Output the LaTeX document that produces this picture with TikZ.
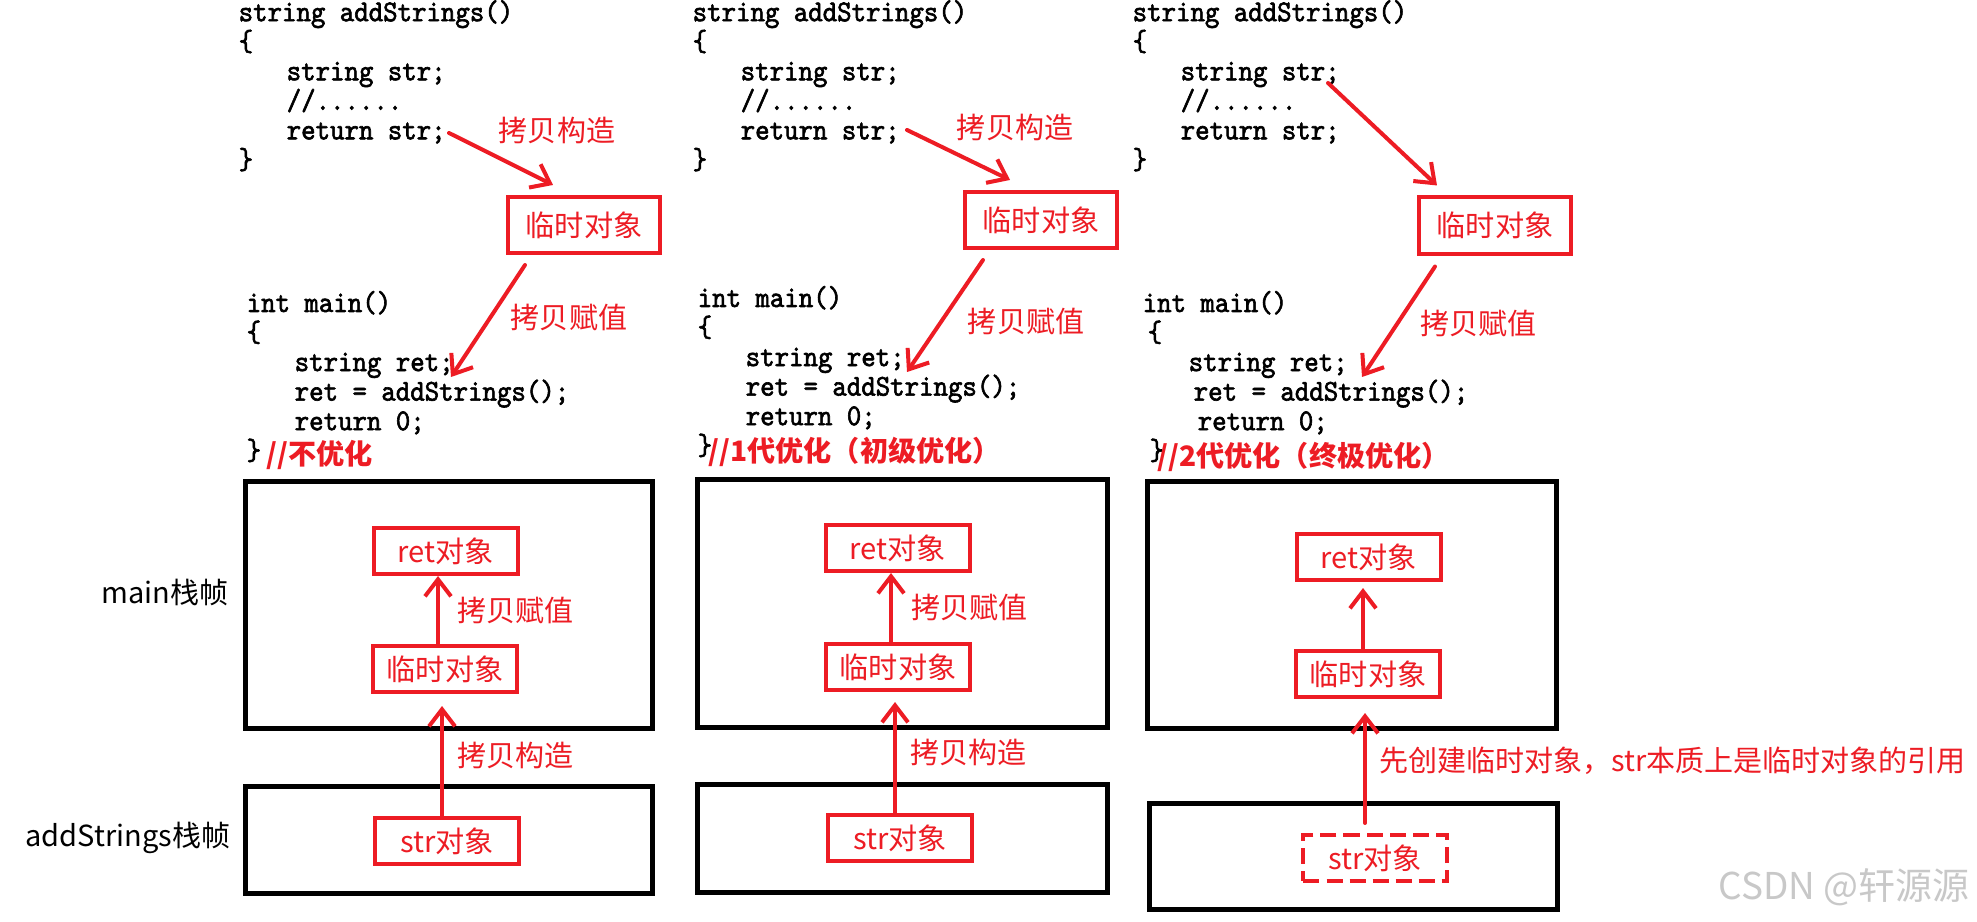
\documentclass[tikz,border=0pt]{standalone}
\usepackage{fontspec}
\usepackage{tikz}
\usetikzlibrary{positioning,arrows.meta,calc}
\newfontfamily\cjk{Noto Sans CJK SC}
\newfontfamily\codefont{lmmono10-regular.otf}[FakeBold=2,FakeStretch=0.91]
\definecolor{penred}{RGB}{237,28,36}
\definecolor{markgray}{RGB}{200,200,200}
\newcommand\codeindent{\hspace*{0.48cm}}
\tikzset{
  stackframe/.style={rectangle,draw=black,line width=0.05cm,inner sep=0pt},
  objbox/.style={rectangle,draw=penred,line width=0.04cm,text=penred,inner sep=0pt,minimum width=1.43cm,minimum height=0.46cm,font=\cjk\fontsize{8.3pt}{10pt}\selectfont},
  tmpbox/.style={objbox,minimum width=1.52cm,minimum height=0.56cm},
  ghostbox/.style={objbox,dash pattern=on 0.16cm off 0.07cm},
  codeblock/.style={align=left,inner sep=0pt,anchor=north west,font=\codefont\fontsize{8.6pt}{8.4pt}\selectfont},
  redtext/.style={text=penred,inner sep=0pt,font=\cjk\fontsize{8.25pt}{10pt}\selectfont},
  remarktext/.style={text=penred,inner sep=0pt,anchor=west,font=\cjk\bfseries\fontsize{8pt}{10pt}\selectfont},
  framename/.style={inner sep=0pt,anchor=east,font=\cjk\fontsize{8.25pt}{10pt}\selectfont},
  copyedge/.style={-{Straight Barb[length=0.17cm,width=0.26cm]},draw=penred,line width=0.04cm,line cap=round}
}

\begin{document}
\begin{tikzpicture}[x=0.01cm,y=-0.01cm]
  \useasboundingbox[fill=white] (0,0) rectangle (1977,922);

  % --- no optimisation
  \node[codeblock] (p1add) at (238,-0.5) {string addStrings()\\\{\\\codeindent string str;\\\codeindent //......\\\codeindent return str;\\\}};
  \node[codeblock] (p1main) at (246,290.3) {int main()\\\{\\\codeindent string ret;\\\codeindent ret = addStrings();\\\codeindent return 0;\\\}};
  \node[remarktext] (p1note) at (266,455) {//不优化};
  \node[tmpbox] (p1tmp) at (584,225) {临时对象};
  \node[redtext] (p1cc) at (557,130) {拷贝构造};
  \node[redtext] (p1ca) at (569,317) {拷贝赋值};
  \coordinate (p1retstr) at (449,133);
  \coordinate (p1getret) at (451,377);
  \draw[copyedge] (p1retstr) -- ([xshift=-0.31cm,yshift=0.1cm]p1tmp.north);
  \draw[copyedge] ([xshift=-0.59cm,yshift=-0.1cm]p1tmp.south) -- (p1getret);

  \node[stackframe,minimum width=4.07cm,minimum height=2.47cm] (p1mainfr) at (449,605) {};
  \node[stackframe,minimum width=4.07cm,minimum height=1.07cm] (p1addfr) at (449,840) {};
  \node[framename] (mainlbl) at (229,593) {main栈帧};
  \node[framename] (addlbl) at (231,838) {addStrings栈帧};
  \node[objbox] (p1ret) at (446,551) {ret对象};
  \node[objbox] (p1tmpb) at (445,669) {临时对象};
  \node[objbox] (p1str) at (447,841) {str对象};
  \draw[copyedge] ([xshift=-0.07cm]p1tmpb.north) -- ([xshift=-0.07cm]p1tmpb.north |- p1ret.south)
    node[redtext,midway,right=0.17cm] (p1lowca) {拷贝赋值};
  \draw[copyedge,shorten >=0.12cm] ([xshift=-0.05cm]p1str.north) -- ([xshift=-0.05cm]p1str.north |- p1tmpb.south)
    node[redtext,midway,right=0.13cm] (p1lowcc) {拷贝构造};

  % --- first generation
  \node[codeblock] (p2add) at (692,-0.5) {string addStrings()\\\{\\\codeindent string str;\\\codeindent //......\\\codeindent return str;\\\}};
  \node[codeblock] (p2main) at (697,285.3) {int main()\\\{\\\codeindent string ret;\\\codeindent ret = addStrings();\\\codeindent return 0;\\\}};
  \node[remarktext] (p2note) at (708,452) {//1代优化（初级优化）};
  \node[tmpbox] (p2tmp) at (1041,220) {临时对象};
  \node[redtext] (p2cc) at (1015,127) {拷贝构造};
  \node[redtext] (p2ca) at (1026,321) {拷贝赋值};
  \coordinate (p2retstr) at (907,130);
  \coordinate (p2getret) at (907,372);
  \draw[copyedge] (p2retstr) -- ([xshift=-0.31cm,yshift=0.1cm]p2tmp.north);
  \draw[copyedge] ([xshift=-0.58cm,yshift=-0.1cm]p2tmp.south) -- (p2getret);

  \node[stackframe,minimum width=4.10cm,minimum height=2.48cm] (p2mainfr) at (902.5,603.5) {};
  \node[stackframe,minimum width=4.10cm,minimum height=1.08cm] (p2addfr) at (902.5,838.5) {};
  \node[objbox] (p2ret) at (898,548) {ret对象};
  \node[objbox] (p2tmpb) at (898,667) {临时对象};
  \node[objbox] (p2str) at (900,838) {str对象};
  \draw[copyedge] ([xshift=-0.07cm]p2tmpb.north) -- ([xshift=-0.07cm]p2tmpb.north |- p2ret.south)
    node[redtext,midway,right=0.18cm] (p2lowca) {拷贝赋值};
  \draw[copyedge,shorten >=0.1cm] ([xshift=-0.05cm]p2str.north) -- ([xshift=-0.05cm]p2str.north |- p2tmpb.south)
    node[redtext,midway,right=0.13cm] (p2lowcc) {拷贝构造};

  % --- second generation
  \node[codeblock] (p3add) at (1132,-0.5) {string addStrings()\\\{\\\codeindent string str;\\\codeindent //......\\\codeindent return str;\\\}};
  \node[codeblock] (p3main) at (1142,290.3) {int main()\\\hspace*{0.05cm}\{\\\hspace*{0.46cm}string ret;\\\hspace*{0.51cm}ret = addStrings();\\\hspace*{0.55cm}return 0;\\\hspace*{0.07cm}\}};
  \node[remarktext] (p3note) at (1157,457) {//2代优化（终极优化）};
  \node[tmpbox] (p3tmp) at (1495,225.5) {临时对象};
  \node[redtext] (p3ca) at (1478,323) {拷贝赋值};
  \coordinate (p3strdecl) at (1328,83);
  \coordinate (p3getret) at (1362,377);
  \draw[copyedge] (p3strdecl) -- ([xshift=-0.58cm,yshift=0.1cm]p3tmp.north);
  \draw[copyedge] ([xshift=-0.6cm,yshift=-0.11cm]p3tmp.south) -- (p3getret);

  \node[stackframe,minimum width=4.09cm,minimum height=2.47cm] (p3mainfr) at (1352,605) {};
  \node[stackframe,minimum width=4.08cm,minimum height=1.06cm] (p3addfr) at (1353.5,856.5) {};
  \node[objbox] (p3ret) at (1369,557) {ret对象};
  \node[objbox] (p3tmpb) at (1368,674) {临时对象};
  \node[ghostbox] (p3str) at (1375,858) {str对象};
  \draw[copyedge,shorten >=0.06cm] ([xshift=-0.05cm]p3tmpb.north) -- ([xshift=-0.05cm]p3tmpb.north |- p3ret.south);
  \draw[copyedge,shorten >=0.14cm] ([xshift=-0.1cm,yshift=0.1cm]p3str.north) -- ([xshift=-0.1cm]p3str.north |- p3tmpb.south)
    node[redtext,midway,right=0.12cm] (p3lowref) {先创建临时对象，str本质上是临时对象的引用};

  \node[inner sep=0pt,text=markgray,font=\cjk\fontsize{10.5pt}{12pt}\selectfont] (mark) at (1844,887) {CSDN @轩源源};
\end{tikzpicture}
\end{document}
